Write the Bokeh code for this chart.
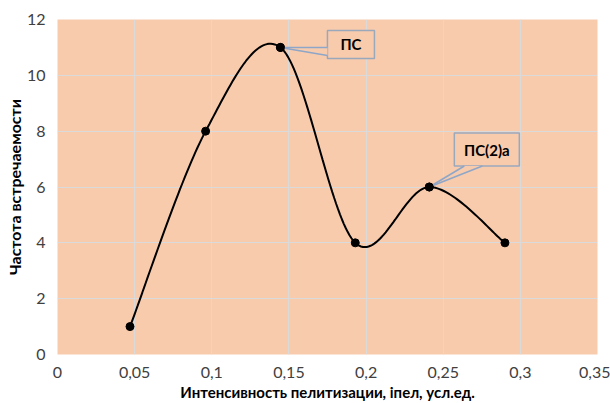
import numpy as np
from bokeh.plotting import figure
from bokeh.models import FixedTicker, CustomJSTickFormatter, Label
from bokeh.core.properties import value
from bokeh.embed import file_html
from bokeh.resources import INLINE

# ---- data ----
x_vals = [0.047, 0.096, 0.1445, 0.193, 0.241, 0.29]
y_vals = [1, 8, 11, 4, 6, 4]
x_ticks = [0, 0.05, 0.1, 0.15, 0.2, 0.25, 0.3, 0.35]
y_ticks = [0, 2, 4, 6, 8, 10, 12]
x_title = "Интенсивность пелитизации, iпел, усл.ед."
y_title = "Частота встречаемости"
callout_text = ["ПС", "ПС(2)а"]
callout_index = [2, 4]

FONT = "Lato"
BG = "#F8CBAD"

# frame geometry (px) used for converting callout offsets
FRAME_W, FRAME_H = 540, 335
X_RANGE, Y_RANGE = (0, 0.35), (0, 12)
sx = (X_RANGE[1] - X_RANGE[0]) / FRAME_W
sy = (Y_RANGE[1] - Y_RANGE[0]) / FRAME_H


def smooth(xs, ys, n=40):
    P = np.column_stack([xs, ys]).astype(float)
    ext = np.vstack([P[0], P, P[-1]])
    out = []
    t = np.linspace(0, 1, n)[:, None]
    for i in range(len(P) - 1):
        p0, p3 = P[i], P[i + 1]
        c1 = p0 + (ext[i + 2] - ext[i]) / 6
        c2 = p3 - (ext[i + 3] - ext[i + 1]) / 6
        seg = (1 - t) ** 3 * p0 + 3 * (1 - t) ** 2 * t * c1 + 3 * (1 - t) * t ** 2 * c2 + t ** 3 * p3
        out.append(seg if i == 0 else seg[1:])
    return np.vstack(out)


p = figure(width=610, height=403, output_backend="svg", toolbar_location=None,
           x_range=X_RANGE, y_range=Y_RANGE,
           min_border_left=57, min_border_right=13, min_border_top=19, min_border_bottom=49)
p.background_fill_color = BG
p.border_fill_color = "white"
p.outline_line_color = None

for ax in (p.xaxis, p.yaxis):
    ax.axis_line_color = None
    ax.major_tick_line_color = None
    ax.minor_tick_line_color = None
    ax.major_label_text_font = FONT
    ax.major_label_text_font_size = "16px"
    ax.major_label_text_color = "#404040"
    ax.axis_label_text_font = FONT
    ax.axis_label_text_font_style = "bold"
    ax.axis_label_text_color = "#000000"

p.xaxis.ticker = FixedTicker(ticks=x_ticks)
p.yaxis.ticker = FixedTicker(ticks=y_ticks)
fmt = CustomJSTickFormatter(code="""
let s = tick.toFixed(2).replace(/0+$/, '').replace(/\\.$/, '');
return s.replace('.', ',');
""")
p.xaxis.formatter = fmt
p.yaxis.formatter = CustomJSTickFormatter(code="return tick.toFixed(0);")
p.xaxis.axis_label = x_title
p.yaxis.axis_label = y_title
p.xaxis.axis_label_text_font_size = "15px"
p.yaxis.axis_label_text_font_size = "16px"
p.xaxis.major_label_standoff = 6
p.yaxis.major_label_standoff = 6
p.xaxis.axis_label_standoff = 2
p.yaxis.axis_label_standoff = 0

p.xgrid.grid_line_color = "#DADADA"
p.ygrid.grid_line_color = "#DADADA"
p.xgrid.grid_line_width = 1
p.ygrid.grid_line_width = 1

curve = smooth(x_vals, y_vals)
p.line(curve[:, 0], curve[:, 1], line_color="black", line_width=2)
p.scatter(x_vals, y_vals, size=8, marker="circle", fill_color="black", line_color="black")

# callouts: pixel offsets relative to the anchor point (screen: +x right, +y down)
callout_geom = [
    dict(box=(47, 94, -17, 11), wedge=((47, 0), (47, 8)), size="15px"),
    dict(box=(25, 90, -54, -21), wedge=((35, -21), (53, -21)), size="15px"),
]
for txt, idx, g in zip(callout_text, callout_index, callout_geom):
    px, py = x_vals[idx], y_vals[idx]
    l, r, t_, b = g["box"]
    cx = px + (l + r) / 2 * sx
    cy = py - (t_ + b) / 2 * sy
    p.rect(x=[cx], y=[cy], width=[(r - l) * sx], height=[(b - t_) * sy],
           fill_color=BG, line_color="#9AA8BC", line_width=1.5)
    (w1x, w1y), (w2x, w2y) = g["wedge"]
    ax1, ay1 = px + w1x * sx, py - w1y * sy
    ax2, ay2 = px + w2x * sx, py - w2y * sy
    p.patch([px, ax1, ax2], [py, ay1, ay2], fill_color=BG, line_color=None)
    p.segment(x0=[px, px], y0=[py, py], x1=[ax1, ax2], y1=[ay1, ay2],
              line_color="#8EA6C8", line_width=1.5)
    p.add_layout(Label(x=cx, y=cy, text=txt, text_align="center", text_baseline="middle",
                       text_font=FONT, text_font_style="bold", text_font_size=g["size"],
                       text_color="black"))

# redraw the anchor markers above the callout wedges
p.scatter([x_vals[i] for i in callout_index], [y_vals[i] for i in callout_index],
          size=8, marker="circle", fill_color="black", line_color="black")

open("out.html", "w").write(file_html(p, INLINE))
